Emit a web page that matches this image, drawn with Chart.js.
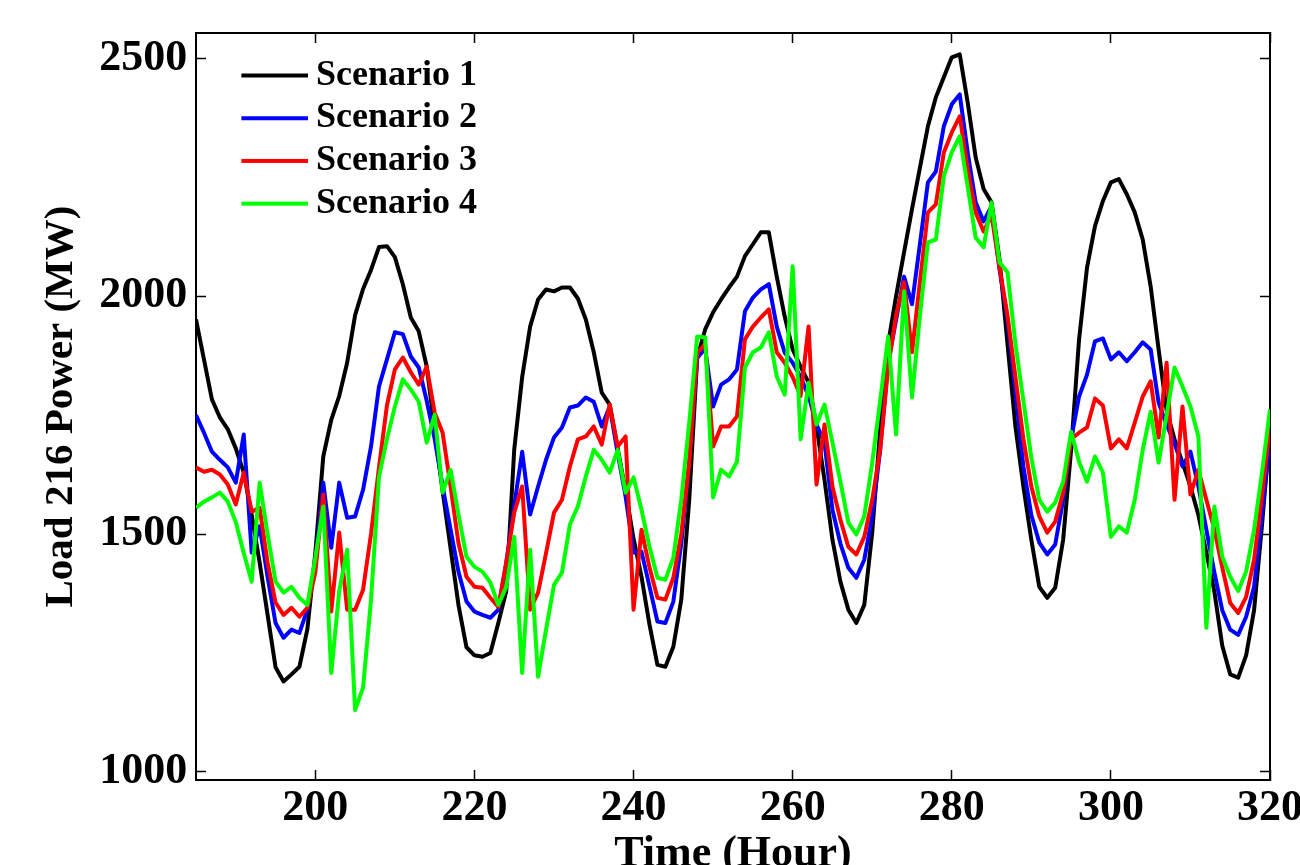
<!DOCTYPE html>
<html>
<head>
<meta charset="utf-8">
<title>Load 216 Power</title>
<script src="https://cdn.jsdelivr.net/npm/chart.js@4.4.1/dist/chart.umd.min.js"></script>
<style>
  html, body { margin: 0; padding: 0; background: #fff; }
  #wrap { width: 1300px; height: 865px; }
</style>
</head>
<body>
<div id="wrap"><canvas id="loadChart" width="1300" height="865"></canvas></div>
<script>
// === DATA (one value per hour 185..320) ===
const hours = [];
for (let h = 185; h <= 320; h++) hours.push(h);

const scenario1 = [
  1951, 1867, 1783, 1745, 1720, 1680, 1629, 1540, 1440, 1330,
  1220, 1190, 1205, 1221, 1300, 1460, 1663, 1740, 1790, 1860,
  1960, 2015, 2055, 2103, 2105, 2082, 2025, 1955, 1926, 1852,
  1720, 1590, 1470, 1350, 1262, 1245, 1242, 1250, 1313, 1380,
  1677, 1830, 1936, 1993, 2014, 2010, 2018, 2018, 1995, 1951,
  1882, 1797, 1772, 1680, 1590, 1490, 1410, 1310, 1225, 1221,
  1263, 1362, 1572, 1870, 1930, 1966, 1993, 2018, 2041, 2084,
  2109, 2134, 2134, 2041, 1957, 1888, 1852, 1818, 1726, 1614,
  1488, 1400, 1341, 1313, 1351, 1503, 1720, 1900, 2000, 2092,
  2183, 2270, 2357, 2418, 2460, 2502, 2508, 2407, 2292, 2225,
  2197, 2077, 1900, 1726, 1600, 1488, 1389, 1366, 1387, 1488,
  1677, 1909, 2060, 2147, 2200, 2239, 2246, 2214, 2176, 2119,
  2020, 1888, 1760, 1699, 1650, 1600, 1540, 1461, 1380, 1265,
  1205, 1198, 1245, 1340, 1520, 1720
];
const scenario2 = [
  1750, 1713, 1673, 1656, 1640, 1608, 1709, 1461, 1516, 1410,
  1313, 1282, 1299, 1292, 1341, 1440, 1608, 1471, 1608, 1534,
  1537, 1593, 1684, 1810, 1867, 1924, 1920, 1873, 1850, 1780,
  1700, 1600, 1510, 1420, 1358, 1337, 1330, 1324, 1341, 1440,
  1560, 1673, 1541, 1600, 1656, 1703, 1724, 1766, 1770, 1787,
  1778, 1726, 1768, 1670, 1579, 1461, 1463, 1390, 1316, 1313,
  1358, 1480, 1650, 1870, 1890, 1768, 1814, 1825, 1846, 1968,
  1997, 2014, 2025, 1936, 1881, 1860, 1830, 1790, 1730, 1692,
  1551, 1480, 1429, 1408, 1446, 1537, 1677, 1860, 1950, 2041,
  1983, 2110, 2239, 2262, 2357, 2403, 2424, 2302, 2197, 2157,
  2189, 2056, 1951, 1800, 1642, 1540, 1482, 1457, 1478, 1572,
  1699, 1789, 1835, 1905, 1911, 1867, 1882, 1863, 1882, 1903,
  1888, 1776, 1730, 1690, 1642, 1673, 1600, 1509, 1420, 1340,
  1299, 1288, 1326, 1389, 1540, 1700
];
const scenario3 = [
  1640, 1631, 1635, 1625, 1604, 1562, 1629, 1547, 1555, 1440,
  1356, 1330, 1345, 1326, 1345, 1420, 1583, 1337, 1503, 1341,
  1341, 1383, 1500, 1640, 1770, 1846, 1871, 1840, 1814, 1852,
  1755, 1713, 1600, 1480, 1410, 1389, 1387, 1366, 1347, 1440,
  1545, 1600, 1341, 1377, 1460, 1545, 1572, 1642, 1699, 1705,
  1726, 1688, 1772, 1684, 1705, 1341, 1509, 1430, 1366, 1362,
  1408, 1500, 1650, 1880, 1900, 1684, 1726, 1726, 1747, 1909,
  1936, 1955, 1972, 1882, 1860, 1830, 1790, 1936, 1604, 1730,
  1600, 1530, 1473, 1457, 1494, 1572, 1677, 1850, 1960, 2029,
  1882, 2030, 2176, 2193, 2302, 2344, 2378, 2267, 2176, 2136,
  2170, 2060, 1960, 1830, 1700, 1600, 1537, 1503, 1526, 1587,
  1699, 1713, 1724, 1785, 1770, 1680, 1699, 1680, 1734, 1789,
  1821, 1703, 1860, 1572, 1768, 1583, 1635, 1572, 1510, 1430,
  1355, 1334, 1368, 1446, 1580, 1730
];
const scenario4 = [
  1555, 1568, 1577, 1587, 1568, 1525, 1460, 1400, 1608, 1500,
  1400, 1377, 1389, 1366, 1351, 1450, 1558, 1208, 1380, 1467,
  1130, 1177, 1362, 1620, 1700, 1768, 1825, 1804, 1778, 1692,
  1751, 1587, 1635, 1540, 1452, 1431, 1421, 1398, 1351, 1389,
  1494, 1208, 1467, 1200, 1299, 1393, 1419, 1520, 1558, 1621,
  1677, 1656, 1629, 1677, 1587, 1619, 1551, 1473, 1408, 1404,
  1450, 1572, 1734, 1915, 1913, 1577, 1635, 1621, 1652, 1850,
  1882, 1892, 1924, 1831, 1793, 2063, 1699, 1818, 1730, 1772,
  1692, 1610, 1524, 1499, 1537, 1650, 1780, 1915, 1709, 2010,
  1787, 1960, 2113, 2119, 2252, 2302, 2336, 2230, 2123, 2103,
  2197, 2071, 2050, 1900, 1780, 1660, 1572, 1547, 1566, 1610,
  1715, 1652, 1610, 1663, 1629, 1494, 1516, 1503, 1572, 1677,
  1757, 1650, 1750, 1850, 1810, 1768, 1705, 1303, 1558, 1452,
  1410, 1380, 1421, 1509, 1630, 1762
];

const seriesNames = ["Scenario 1", "Scenario 2", "Scenario 3", "Scenario 4"];
const seriesValues = [scenario1, scenario2, scenario3, scenario4];
const seriesColors = ["#000000", "#0000ff", "#ff0000", "#00ff00"];

const xTicks = [200, 220, 240, 260, 280, 300, 320];
const yTicks = [1000, 1500, 2000, 2500];

// === HELPERS ===
const serif = "'Liberation Serif', 'Times New Roman', serif";

// legend sample: short thick line, drawn into a small canvas used as pointStyle
function legendLine(color) {
    const c = document.createElement("canvas");
    c.width = 116;
    c.height = 8;
    const g = c.getContext("2d");
    g.strokeStyle = color;
    g.lineWidth = 4;
    g.beginPath();
    g.moveTo(49, 4);
    g.lineTo(116, 4);
    g.stroke();
    return c;
}

function fixTicks(values) {
    return scale => { scale.ticks = values.map(v => ({ value: v })); };
}

function sizeAxis(prop, px) {
    return scale => {
        scale[prop] = px;
        scale.paddingLeft = 0;
        scale.paddingRight = 0;
        scale.paddingTop = 0;
        scale.paddingBottom = 0;
    };
}

// inward tick marks, MATLAB box style
const boxGrid = { drawOnChartArea: false, tickLength: -10, tickWidth: 1.5, tickColor: "#000" };
const boxBorder = { display: true, color: "#000", width: 2 };
const tickFont = { family: serif, size: 44, weight: "bold" };

// === CHART ===
const datasets = seriesNames.map((name, i) => ({
    label: name,
    data: hours.map((h, j) => ({ x: h, y: seriesValues[i][j] })),
    borderColor: seriesColors[i],
    backgroundColor: seriesColors[i],
    borderWidth: 4,
    borderJoinStyle: "round",
    pointRadius: 0,
    pointStyle: legendLine(seriesColors[i]),
    tension: 0,
    order: 4 - i, // later scenarios drawn on top
    xAxisID: "x",
    yAxisID: "y"
}));

new Chart(document.getElementById("loadChart"), {
    type: "line",
    data: { datasets },
    options: {
        responsive: false,
        animation: false,
        devicePixelRatio: 1,
        events: [],
        layout: { padding: { left: 0, right: 30, top: 33, bottom: 0 } },
        scales: {
            x: {
                type: "linear",
                position: "bottom",
                min: 185,
                max: 320,
                afterBuildTicks: fixTicks(xTicks),
                afterFit: sizeAxis("height", 85),
                grid: boxGrid,
                border: boxBorder,
                ticks: {
                    color: "#000",
                    padding: 12.6,
                    maxRotation: 0,
                    autoSkip: false,
                    font: tickFont,
                    callback: v => String(v)
                },
                title: {
                    display: true,
                    text: "Time (Hour)",
                    color: "#000",
                    font: { family: serif, size: 44, weight: "bold" },
                    padding: { top: 0, bottom: -16 }
                }
            },
            y: {
                type: "linear",
                position: "left",
                min: 983,
                max: 2553,
                afterBuildTicks: fixTicks(yTicks),
                afterFit: sizeAxis("width", 196),
                grid: boxGrid,
                border: boxBorder,
                ticks: {
                    color: "#000",
                    padding: 18.7,
                    font: tickFont,
                    callback: v => String(v)
                },
                title: {
                    display: true,
                    text: "Load 216 Power (MW)",
                    color: "#000",
                    font: { family: serif, size: 41, weight: "bold" },
                    padding: { top: 36.4, bottom: 0 }
                }
            },
            xTop: {
                type: "linear",
                position: "top",
                min: 185,
                max: 320,
                afterBuildTicks: fixTicks(xTicks),
                afterFit: sizeAxis("height", 0),
                grid: boxGrid,
                border: boxBorder,
                ticks: { display: false }
            },
            yRight: {
                type: "linear",
                position: "right",
                min: 983,
                max: 2553,
                afterBuildTicks: fixTicks(yTicks),
                afterFit: sizeAxis("width", 0),
                grid: boxGrid,
                border: boxBorder,
                ticks: { display: false }
            }
        },
        plugins: {
            legend: {
                position: "chartArea",
                align: "start",
                // empty title just pushes the entries down inside the plot box
                title: {
                    display: true,
                    text: " ",
                    font: { size: 12, lineHeight: 1 },
                    padding: { top: 0, bottom: 38.8 }
                },
                labels: {
                    usePointStyle: true,
                    pointStyleWidth: 95.3,
                    padding: 6.7,
                    color: "#000",
                    font: { family: serif, size: 36, weight: "bold" },
                    sort: (a, b) => a.datasetIndex - b.datasetIndex
                }
            },
            tooltip: { enabled: false }
        }
    }
});
</script>
</body>
</html>
